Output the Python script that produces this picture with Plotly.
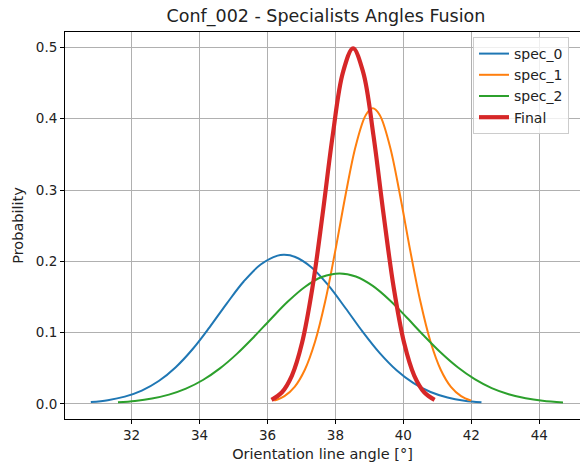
import plotly.graph_objects as go

# ---- data ----
spec0_x = [30.8, 31.3, 31.8, 32.3, 32.8, 33.3, 33.8, 34.3, 34.8, 35.3, 35.8, 36.3, 36.5,
           36.8, 37.3, 37.8, 38.3, 38.8, 39.3, 39.8, 40.3, 40.8, 41.3, 41.8, 42.3]
spec0_y = [0.0024, 0.0051, 0.0101, 0.0186, 0.0320, 0.0514, 0.0769, 0.1077, 0.1406, 0.1716,
           0.1954, 0.2079, 0.2090, 0.2064, 0.1914, 0.1658, 0.1341, 0.1012, 0.0714, 0.0470,
           0.0289, 0.0166, 0.0089, 0.0044, 0.0021]

spec1_x = [36.2, 36.5, 36.8, 37.1, 37.4, 37.7, 38.0, 38.3, 38.6, 38.9, 39.1,
           39.3, 39.6, 39.9, 40.2, 40.5, 40.8, 41.1, 41.4, 41.7, 42.0]
spec1_y = [0.0044, 0.0108, 0.0238, 0.0478, 0.0870, 0.1438, 0.2156, 0.2934, 0.3622, 0.4057,
           0.4146, 0.4057, 0.3622, 0.2934, 0.2156, 0.1438, 0.0870, 0.0478, 0.0238, 0.0108, 0.0044]

spec2_x = [31.6, 32.1, 32.6, 33.1, 33.6, 34.1, 34.6, 35.1, 35.6, 36.1, 36.6, 37.1, 37.6, 38.12,
           38.6, 39.1, 39.6, 40.1, 40.6, 41.1, 41.6, 42.1, 42.6, 43.1, 43.6, 44.1, 44.7]
spec2_y = [0.0021, 0.0040, 0.0074, 0.0129, 0.0213, 0.0334, 0.0497, 0.0701, 0.0938, 0.1191,
           0.1435, 0.1640, 0.1779, 0.1830, 0.1786, 0.1654, 0.1453, 0.1211, 0.0958, 0.0719,
           0.0512, 0.0346, 0.0221, 0.0135, 0.0078, 0.0043, 0.0019]

final_x = [36.12, 36.42, 36.72, 37.02, 37.32, 37.62, 37.92, 38.22, 38.52,
           38.82, 39.12, 39.42, 39.72, 40.02, 40.32, 40.62, 40.92]
final_y = [0.0055, 0.0159, 0.0397, 0.0860, 0.1619, 0.2649, 0.3764, 0.4648, 0.4987,
           0.4648, 0.3764, 0.2649, 0.1619, 0.0860, 0.0397, 0.0159, 0.0055]

names = ["spec_0", "spec_1", "spec_2", "Final"]
colors = ["#1f77b4", "#ff7f0e", "#2ca02c", "#d62728"]
widths = [2, 2, 2, 4.2]

x_ticks = [32, 34, 36, 38, 40, 42, 44]
y_ticks = [0.0, 0.1, 0.2, 0.3, 0.4, 0.5]

FONT = "DejaVu Sans"
TXT = "#222222"

fig = go.Figure()
series = [(spec0_x, spec0_y), (spec1_x, spec1_y), (spec2_x, spec2_y), (final_x, final_y)]
for (xs, ys), n, c, w in zip(series, names, colors, widths):
    fig.add_trace(go.Scatter(x=xs, y=ys, name=n, mode="lines", legendgroup=n,
                             line=dict(color=c, width=w, shape="spline", smoothing=1.0)))

fig.update_layout(
    width=580, height=470,
    margin=dict(l=65, r=0, t=32, b=51),
    paper_bgcolor="white", plot_bgcolor="white",
    font=dict(family=FONT, size=13.5, color=TXT),
    title=dict(text="Conf_002 - Specialists Angles Fusion", x=(326 / 580), xanchor="center",
               yref="container", y=1 - 16 / 470, yanchor="middle",
               font=dict(family=FONT, size=17.5, color=TXT)),
    showlegend=True,
    legend=dict(x=(473 - 65) / 515, xanchor="left", y=1 - 5 / 387, yanchor="top",
                bgcolor="rgba(255,255,255,0.8)", bordercolor="#cccccc", borderwidth=1,
                font=dict(family=FONT, size=14, color=TXT),
                tracegroupgap=0, itemwidth=30),
    xaxis=dict(range=[30.04, 45.2], tickvals=x_ticks, ticktext=[str(v) for v in x_ticks],
               showgrid=True, gridcolor="#b0b0b0", gridwidth=1,
               showline=True, linecolor="black", linewidth=1, mirror=True,
               ticks="outside", ticklen=4, tickcolor="black", zeroline=False,
               tickfont=dict(family=FONT, size=13.5, color=TXT),
               title=dict(text="Orientation line angle [°]", standoff=6,
                          font=dict(family=FONT, size=14.5, color=TXT))),
    yaxis=dict(range=[-0.0213, 0.5217], tickvals=y_ticks, ticktext=[f"{v:.1f}" for v in y_ticks],
               showgrid=True, gridcolor="#b0b0b0", gridwidth=1,
               showline=True, linecolor="black", linewidth=1, mirror=False,
               ticks="outside", ticklen=4, tickcolor="black", zeroline=False,
               tickfont=dict(family=FONT, size=13.5, color=TXT),
               title=dict(text="Probability", standoff=8,
                          font=dict(family=FONT, size=14.5, color=TXT))),
)

fig.write_html("out.html")
